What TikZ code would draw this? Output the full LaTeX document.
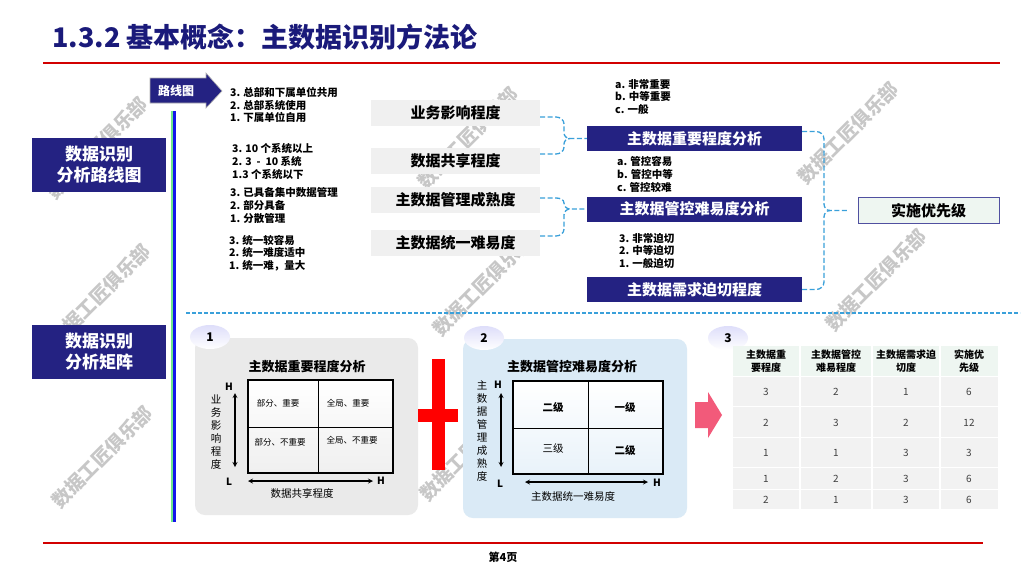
\documentclass[tikz,border=0pt]{standalone}
\usepackage{fontspec}
\setmainfont{Noto Sans CJK SC}
\usetikzlibrary{shapes.geometric}
\definecolor{navy}{RGB}{36,34,130}
\definecolor{titlenavy}{RGB}{26,26,122}
\definecolor{rulered}{RGB}{210,0,0}
\definecolor{dashblue}{RGB}{58,160,218}
\definecolor{boxgray}{RGB}{240,240,240}
\definecolor{mint}{RGB}{238,246,241}
\definecolor{prioborder}{RGB}{80,80,160}
\definecolor{panelgray}{RGB}{234,234,234}
\definecolor{panelblue}{RGB}{218,234,246}
\definecolor{lavender}{RGB}{222,222,250}
\definecolor{pinkarrow}{RGB}{242,90,122}
\definecolor{rowgray}{RGB}{242,242,242}
\definecolor{railgreen}{RGB}{110,230,140}
\definecolor{railblue}{RGB}{20,20,235}

\begin{document}
\begin{tikzpicture}[x=1pt,y=1pt,>=stealth]
    \tikzset{
        sidebox/.style={fill=navy,text=white,align=center,inner sep=0pt,
            font=\bfseries\fontsize{17}{21}\selectfont,minimum width=134,minimum height=54},
        factorbox/.style={fill=boxgray,inner sep=0pt,
            font=\bfseries\fontsize{15}{18}\selectfont,minimum width=169,minimum height=26},
        resultbox/.style={fill=navy,text=white,inner sep=0pt,
            font=\bfseries\fontsize{15}{18}\selectfont,minimum width=215,minimum height=25},
        itemlist/.style={anchor=west,align=left,inner sep=0pt,
            font=\bfseries\fontsize{10.5}{12.7}\selectfont},
        brace/.style={draw=dashblue,line width=1.3pt,dash pattern=on 5pt off 2.5pt},
        bubble/.style={ellipse,minimum width=40,minimum height=24,inner sep=0pt,
            top color=lavender,bottom color=white,font=\bfseries\fontsize{12}{14}\selectfont},
        paneltitle/.style={font=\bfseries\fontsize{13}{15}\selectfont},
        celltext/.style={inner sep=0pt,font=\fontsize{8.5}{10}\selectfont},
        gradetext/.style={inner sep=0pt,font=\fontsize{10.5}{12}\selectfont},
        axislabel/.style={inner sep=0pt,font=\fontsize{10.5}{13}\selectfont,align=center},
        hl/.style={inner sep=0pt,font=\bfseries\fontsize{10}{12}\selectfont},
        axis/.style={<->,line width=1.2pt},
        headcell/.style={align=center,inner sep=0pt,font=\bfseries\fontsize{10}{13}\selectfont},
        numcell/.style={inner sep=0pt,text=black!75,font=\fontsize{10}{12}\selectfont},
        watermark/.style={rotate=45,text=black!22,font=\bfseries\fontsize{19}{22}\selectfont}
    }
    \useasboundingbox (0,0) rectangle (1024,-576);
    \fill[white] (0,0) rectangle (1024,-576);

    \node[watermark] (w1) at (97,-148) {数据工匠俱乐部};
    \node[watermark] (w2) at (468,-138) {数据工匠俱乐部};
    \node[watermark] (w3) at (848,-133) {数据工匠俱乐部};
    \node[watermark] (w4) at (876,-280) {数据工匠俱乐部};
    \node[watermark] (w5) at (483,-285) {数据工匠俱乐部};
    \node[watermark] (w6) at (100,-295) {数据工匠俱乐部};
    \node[watermark] (w7) at (102,-457) {数据工匠俱乐部};
    \node[watermark] (w8) at (470,-450) {数据工匠俱乐部};

    \node[anchor=west,inner sep=0pt,text=titlenavy,font=\bfseries\fontsize{27}{32}\selectfont]
        (title) at (52,-37) {1.3.2 基本概念：主数据识别方法论};
    \draw[rulered,line width=2pt] (43,-63) -- (1000,-63);
    \draw[rulered,line width=2pt] (43,-543) -- (983,-543);
    \node[font=\bfseries\fontsize{11}{13}\selectfont] (page) at (503,-557) {第4页};

    \fill[navy,draw=black!30,line width=0.6pt] (150,-78) -- (206,-78) -- (206,-73)
        -- (222,-91) -- (206,-108) -- (206,-103) -- (150,-103) -- cycle;
    \node[text=white,font=\bfseries\fontsize{12}{14}\selectfont] (road) at (176,-91) {路线图};
    \draw[railgreen,line width=1.6pt] (172,-111) -- (172,-522);
    \draw[railblue,line width=2.4pt] (174.5,-111) -- (174.5,-522);

    \node[sidebox] (side1) at (99,-164.5) {数据识别\\分析路线图};
    \node[sidebox] (side2) at (99,-351.5) {数据识别\\分析矩阵};

    \node[itemlist] (l1) at (230,-105) {3. 总部和下属单位共用\\2. 总部系统使用\\1. 下属单位自用};
    \node[itemlist] (l2) at (232,-161.5) {3. 10 个系统以上\\2. 3\ \ -\ \ 10 系统\\1.3 个系统以下};
    \node[itemlist] (l3) at (230,-205.5) {3. 已具备集中数据管理\\2. 部分具备\\1. 分散管理};
    \node[itemlist] (l4) at (229,-253) {3. 统一较容易\\2. 统一难度适中\\1. 统一难，量大};

    \node[factorbox] (impact) at (455.5,-113) {业务影响程度};
    \node[factorbox] (share) at (455.5,-161) {数据共享程度};
    \node[factorbox] (mature) at (455.5,-200) {主数据管理成熟度};
    \node[factorbox] (unify) at (455.5,-243) {主数据统一难易度};

    \node[itemlist] (la) at (615,-96.7) {a. 非常重要\\b. 中等重要\\c. 一般};
    \node[itemlist] (lb) at (617,-174.5) {a. 管控容易\\b. 管控中等\\c. 管控较难};
    \node[itemlist] (lc) at (619,-251) {3. 非常迫切\\2. 中等迫切\\1. 一般迫切};

    \node[resultbox] (wA) at (694.5,-138.5) {主数据重要程度分析};
    \node[resultbox] (wB) at (694.5,-209) {主数据管控难易度分析};
    \node[resultbox] (wC) at (694.5,-289.5) {主数据需求迫切程度};
    \node[draw=prioborder,line width=1pt,fill=mint,minimum width=141,minimum height=26,
        inner sep=0pt,font=\bfseries\fontsize{15}{18}\selectfont] (prio) at (928.5,-210.5) {实施优先级};

    \draw[brace] ([yshift=-4pt]impact.east) -- (556,-117) to[out=0,in=90] (564,-124)
        -- (564,-133) to[out=-90,in=180] (570,-138.5) -- (wA.west);
    \draw[brace] ([yshift=7pt]share.east) -- (556,-154) to[out=0,in=-90] (564,-147)
        -- (564,-144) to[out=90,in=180] (570,-138.5);
    \draw[brace] ([yshift=2pt]mature.east) -- (556,-198) to[out=0,in=90] (564,-203)
        to[out=-90,in=180] (570,-209) -- (wB.west);
    \draw[brace] ([yshift=7pt]unify.east) -- (556,-236) to[out=0,in=-90] (564,-229)
        -- (564,-215) to[out=90,in=180] (570,-209);
    \draw[brace,shorten >=10pt] ([yshift=7pt]wA.east) -- (816,-131.5) to[out=0,in=90] (824,-139)
        -- (824,-204) to[out=-90,in=180] (830,-210.5) -- (prio.west);
    \draw[brace] (wC.east) -- (816,-289.5) to[out=0,in=-90] (824,-282)
        -- (824,-217) to[out=90,in=180] (830,-210.5);

    \draw[dashblue,line width=1.5pt,dash pattern=on 4pt off 2pt] (186,-313) -- (1020,-313);

    \fill[panelgray,rounded corners=10pt] (195,-338) rectangle (418,-515);
    \fill[panelblue,rounded corners=10pt] (463,-339) rectangle (687,-518);
    \node[bubble] (b1) at (210,-337) {1};
    \node[bubble] (b2) at (484,-338) {2};
    \node[bubble] (b3) at (728,-338) {3};

    \node[paneltitle] (t1) at (307,-367) {主数据重要程度分析};
    \shade[top color=white,bottom color=black!6] (248,-380) rectangle (393,-473);
    \draw[line width=1pt] (318,-380) -- (318,-473) (248,-427) -- (393,-427);
    \draw[line width=2pt] (248,-380) rectangle (393,-473);
    \node[celltext] (c11) at (278,-403) {部分、重要};
    \node[celltext] (c12) at (348,-403) {全局、重要};
    \node[celltext] (c21) at (280,-442) {部分、不重要};
    \node[celltext] (c22) at (352,-440) {全局、不重要};
    \node[hl] (hy1) at (229,-387) {H};
    \node[hl] (ly1) at (229,-482) {L};
    \node[hl] (hx1) at (381,-481) {H};
    \coordinate (y1t) at (235,-393);
    \coordinate (y1b) at (235,-467);
    \coordinate (x1l) at (248,-481);
    \coordinate (x1r) at (373,-481);
    \draw[axis] (y1t) -- (y1b);
    \draw[axis] (x1l) -- (x1r);
    \node[axislabel] (v1) at (216,-432) {业\\务\\影\\响\\程\\度};
    \node[axislabel] (x1) at (302,-493) {数据共享程度};

    \node[paneltitle] (t2) at (572,-367) {主数据管控难易度分析};
    \shade[top color=white,bottom color=panelblue!60] (513,-381) rectangle (663,-474);
    \draw[line width=1pt] (588,-381) -- (588,-474) (513,-428) -- (663,-428);
    \draw[line width=2pt] (513,-381) rectangle (663,-474);
    \node[gradetext,font=\bfseries\fontsize{10.5}{12}\selectfont] (d11) at (553,-407) {二级};
    \node[gradetext,font=\bfseries\fontsize{10.5}{12}\selectfont] (d12) at (625,-407) {一级};
    \node[gradetext] (d21) at (553,-449) {三级};
    \node[gradetext,font=\bfseries\fontsize{10.5}{12}\selectfont] (d22) at (625,-450) {二级};
    \node[hl] (hy2) at (498,-385) {H};
    \node[hl] (ly2) at (500,-484) {L};
    \node[hl] (hx2) at (657,-483) {H};
    \coordinate (y2t) at (501,-393);
    \coordinate (y2b) at (501,-467);
    \coordinate (x2l) at (525,-482);
    \coordinate (x2r) at (648,-482);
    \draw[axis] (y2t) -- (y2b);
    \draw[axis] (x2l) -- (x2r);
    \node[axislabel] (v2) at (482,-431) {主\\数\\据\\管\\理\\成\\熟\\度};
    \node[axislabel] (x2) at (573,-496) {主数据统一难易度};

    \fill[red] (432,-359) rectangle (445,-470);
    \fill[red] (418,-409) rectangle (458,-422);
    \fill[pinkarrow] (695,-402) -- (708,-402) -- (708,-392) -- (722,-415)
        -- (708,-438) -- (708,-428) -- (695,-428) -- cycle;

    \fill[mint] (733,-346) rectangle (998,-376);
    \fill[rowgray] (733,-376) rectangle (998,-509);
    \draw[white,line width=1.5pt] (800,-346) -- (800,-509) (872,-346) -- (872,-509)
        (940,-346) -- (940,-509);
    \draw[white,line width=1.5pt] (733,-376.5) -- (998,-376.5) (733,-406.5) -- (998,-406.5)
        (733,-437.5) -- (998,-437.5) (733,-467.5) -- (998,-467.5) (733,-489.5) -- (998,-489.5);
    \node[headcell] (h1) at (766,-361.5) {主数据重\\要程度};
    \node[headcell] (h2) at (836,-361.5) {主数据管控\\难易程度};
    \node[headcell] (h3) at (906,-361.5) {主数据需求迫\\切度};
    \node[headcell] (h4) at (969,-361.5) {实施优\\先级};
    \foreach \yy/\a/\b/\c/\d [count=\r] in
        {392/3/2/1/6, 423/2/3/2/12, 453/1/1/3/3, 479/1/2/3/6, 500/2/1/3/6} {
        \node[numcell] (r\r a) at (766,-\yy) {\a};
        \node[numcell] (r\r b) at (836,-\yy) {\b};
        \node[numcell] (r\r c) at (906,-\yy) {\c};
        \node[numcell] (r\r d) at (969,-\yy) {\d};
    }
\end{tikzpicture}
\end{document}
